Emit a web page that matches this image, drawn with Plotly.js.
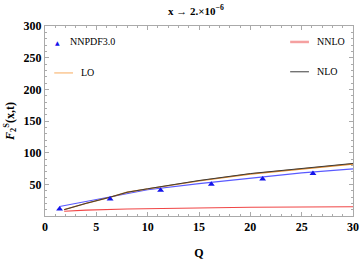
<!DOCTYPE html>
<html>
<head>
<meta charset="utf-8">
<script src="https://cdn.plot.ly/plotly-3.0.1.min.js"></script>
<style>html,body{margin:0;padding:0;background:#fff;}#chart{width:361px;height:260px;}</style>
</head>
<body>
<div id="chart"></div>
<script>
// NNPDF3.0 data points
var qData = [1.42, 6.34, 11.26, 16.2, 21.2, 26.1];
var fData = [11, 27, 40.6, 50, 58.6, 67];
// Blue curve through NNPDF
var qFit = [1.42, 6.3, 10, 15, 20, 25, 30];
var fFit = [15, 30.5, 41.5, 51, 60, 68, 74.3];
// LO
var qLO = [1.87, 4, 6.3, 8, 10, 15, 20, 25, 30];
var fLO = [10, 20, 29.5, 37.5, 42.8, 55.5, 66.3, 74.2, 82];
// NLO
var qNLO = [1.87, 4, 6.3, 8, 10, 15, 20, 25, 30];
var fNLO = [10, 20, 29.5, 37.5, 43, 56, 67, 75, 83];
// NNLO
var qNNLO = [1.87, 4, 8, 10, 15, 20, 25, 30];
var fNNLO = [7.6, 9.3, 11, 11.6, 12.8, 13.8, 14.3, 14.6];

var legendNames = ["NNPDF3.0", "LO", "NNLO", "NLO"];
var titleText = "x \u2192 2.\u00d710<sup>\u22126</sup>";
var xTitle = "Q";
var yTitle = "<i>F</i><sub>2</sub><sup>S</sup>(x,t)";

var serif = "Liberation Serif, Times New Roman, serif";

var traces = [
  {x: qNNLO, y: fNNLO, mode: "lines", line: {color: "rgb(240,70,70)", width: 1.1}, showlegend: false},
  {x: qFit, y: fFit, mode: "lines", line: {color: "rgb(90,90,255)", width: 1.2}, showlegend: false},
  {x: qLO, y: fLO, mode: "lines", line: {color: "rgb(225,135,40)", width: 1.4}, showlegend: false},
  {x: qNLO, y: fNLO, mode: "lines", line: {color: "rgb(60,60,60)", width: 1}, showlegend: false},
  {x: qData, y: fData, mode: "markers", marker: {symbol: "triangle-up", size: 6, color: "rgb(20,20,235)"}, showlegend: false}
];

var axisCommon = {
  showline: true, mirror: "allticks", linecolor: "#aaa", linewidth: 1,
  ticks: "inside", ticklen: 4, tickcolor: "#aaa", tickwidth: 1,
  showgrid: false, zeroline: false,
  tickfont: {family: serif, size: 12, color: "#000", weight: "bold"}
};

var layout = {
  width: 361, height: 260,
  margin: {l: 45, r: 8, t: 26, b: 43.5},
  paper_bgcolor: "#fff", plot_bgcolor: "#fff",
  title: {text: titleText, font: {family: serif, size: 11, color: "#000", weight: "bold"},
          xref: "paper", x: 0.49, xanchor: "center", yref: "container", y: 0.958, yanchor: "middle"},
  xaxis: Object.assign({}, axisCommon, {
    range: [0, 30], tickvals: [0, 5, 10, 15, 20, 25, 30],
    minor: {ticks: "inside", ticklen: 2, tickcolor: "#aaa", dtick: 1},
    title: {text: xTitle, font: {family: serif, size: 12, color: "#000", weight: "bold"}, standoff: 16}
  }),
  yaxis: Object.assign({}, axisCommon, {
    range: [0, 300], tickvals: [50, 100, 150, 200, 250, 300],
    minor: {ticks: "inside", ticklen: 2, tickcolor: "#aaa", dtick: 10},
    title: {text: yTitle, font: {family: serif, size: 12, color: "#000", weight: "bold"}, standoff: 6}
  }),
  shapes: [
    {type: "line", xref: "paper", yref: "paper", x0: 0.030, x1: 0.091, y0: 0.753, y1: 0.753, line: {color: "rgb(250,185,120)", width: 1.2}},
    {type: "line", xref: "paper", yref: "paper", x0: 0.796, x1: 0.857, y0: 0.916, y1: 0.916, line: {color: "rgb(245,160,160)", width: 2.5}},
    {type: "line", xref: "paper", yref: "paper", x0: 0.796, x1: 0.857, y0: 0.759, y1: 0.759, line: {color: "rgb(60,60,60)", width: 1}}
  ],
  annotations: [
    {xref: "paper", yref: "paper", x: 0.040, y: 0.911, text: "\u25b2", showarrow: false, xanchor: "center", yanchor: "middle", font: {family: "DejaVu Sans", size: 6, color: "rgb(20,20,235)"}},
    {xref: "paper", yref: "paper", x: 0.075, y: 0.916, text: legendNames[0], showarrow: false, xanchor: "left", yanchor: "middle", font: {family: serif, size: 10, color: "#000"}},
    {xref: "paper", yref: "paper", x: 0.111, y: 0.753, text: legendNames[1], showarrow: false, xanchor: "left", yanchor: "middle", font: {family: serif, size: 10, color: "#000"}},
    {xref: "paper", yref: "paper", x: 0.877, y: 0.916, text: legendNames[2], showarrow: false, xanchor: "left", yanchor: "middle", font: {family: serif, size: 10, color: "#000"}},
    {xref: "paper", yref: "paper", x: 0.877, y: 0.759, text: legendNames[3], showarrow: false, xanchor: "left", yanchor: "middle", font: {family: serif, size: 10, color: "#000"}}
  ]
};

Plotly.newPlot("chart", traces, layout, {displayModeBar: false, staticPlot: true});
</script>
</body>
</html>
